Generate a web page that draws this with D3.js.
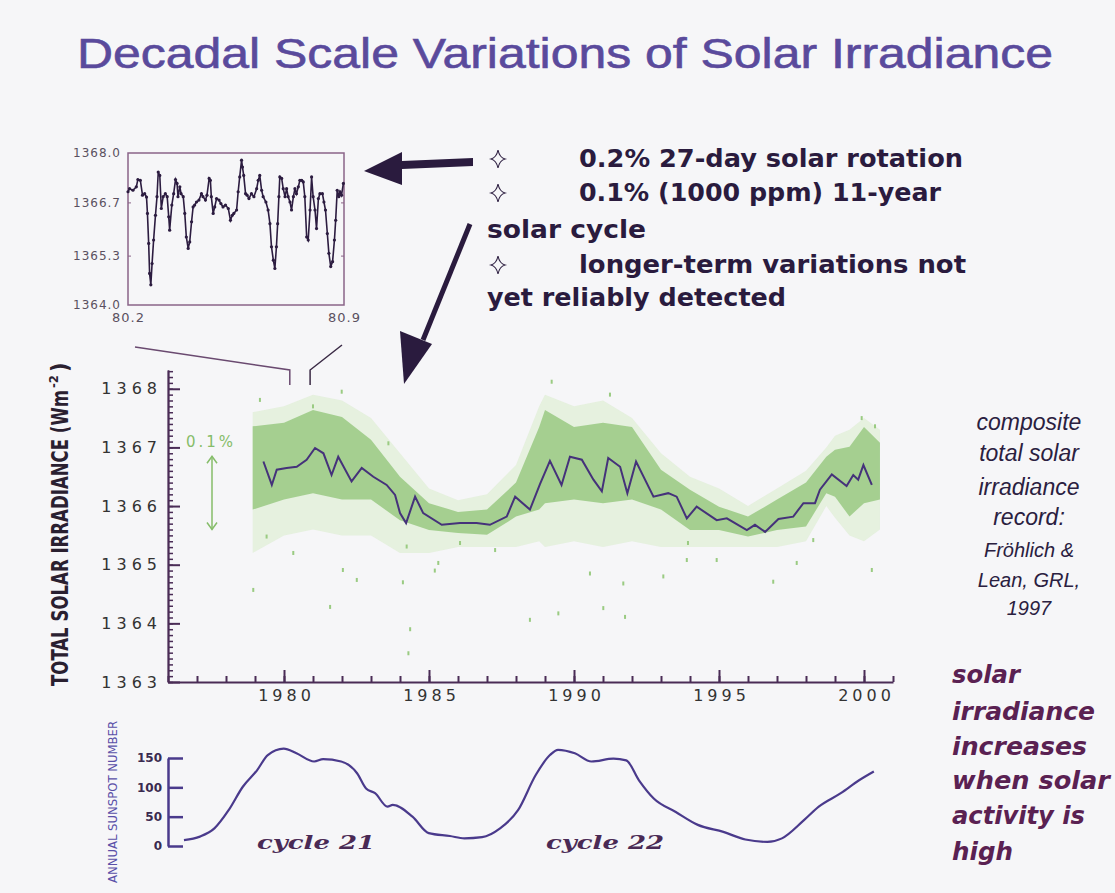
<!DOCTYPE html>
<html>
<head>
<meta charset="utf-8">
<script src="https://cdn.jsdelivr.net/npm/d3@7"></script>
<style>
  body { margin: 0; background: #f6f6f8; }
  svg { display: block; }
</style>
</head>
<body>
<div id="chart"></div>
<script>
// ---- data ----

// running mean of total solar irradiance [year, W/m2]
const meanYears = [1979.29, 1979.58, 1979.75, 1980.09, 1980.44, 1980.78, 1981.07, 1981.36, 1981.64, 1981.87,
    1982.33, 1982.68, 1983.08, 1983.54, 1983.83, 1984.0, 1984.21, 1984.52, 1984.80, 1985.44,
    1986.07, 1986.64, 1987.10, 1987.68, 1987.97, 1988.48, 1988.83, 1989.17, 1989.57, 1989.86,
    1990.27, 1990.67, 1990.96, 1991.18, 1991.59, 1991.84, 1992.14, 1992.74, 1993.25, 1993.54,
    1993.89, 1994.23, 1994.92, 1995.27, 1995.96, 1996.24, 1996.59, 1997.05, 1997.56, 1997.91,
    1998.31, 1998.48, 1998.89, 1999.40, 1999.63, 1999.80, 1999.98, 2000.27];
const meanValues = [1366.76, 1366.36, 1366.62, 1366.65, 1366.67, 1366.79, 1366.99, 1366.90, 1366.53, 1366.84,
    1366.42, 1366.65, 1366.50, 1366.36, 1366.19, 1365.88, 1365.71, 1366.16, 1365.88, 1365.68,
    1365.71, 1365.71, 1365.68, 1365.82, 1366.16, 1365.94, 1366.38, 1366.77, 1366.36, 1366.84,
    1366.79, 1366.45, 1366.25, 1366.82, 1366.67, 1366.22, 1366.76, 1366.16, 1366.22, 1366.16,
    1365.79, 1365.99, 1365.76, 1365.79, 1365.59, 1365.68, 1365.56, 1365.78, 1365.82, 1366.05,
    1366.05, 1366.28, 1366.54, 1366.34, 1366.53, 1366.45, 1366.70, 1366.36];

// envelope of the daily values (dense part and sparse halo)
const bandYears = [1978.92, 1980, 1981, 1982, 1983, 1984, 1985, 1986, 1987, 1988, 1988.8, 1989, 1990,
    1991, 1992, 1993, 1994, 1995, 1996, 1997, 1998, 1998.7, 1999, 1999.5, 2000, 2000.55];
const bandHigh = [1367.36, 1367.42, 1367.64, 1367.52, 1367.13, 1366.50, 1366.05, 1365.90, 1365.94, 1366.40, 1367.35, 1367.64, 1367.35,
    1367.42, 1367.35, 1366.62, 1366.28, 1365.99, 1365.82, 1366.11, 1366.40, 1366.84, 1366.96, 1367.01, 1367.35, 1367.08];
const bandLow = [1365.94, 1366.11, 1366.22, 1366.11, 1366.11, 1365.76, 1365.59, 1365.54, 1365.51, 1365.82, 1365.94, 1366.05, 1366.11,
    1366.05, 1366.11, 1365.94, 1365.59, 1365.59, 1365.48, 1365.59, 1365.65, 1366.22, 1366.16, 1365.82, 1366.05, 1366.11];
const haloHigh = [1367.6, 1367.7, 1367.9, 1367.8, 1367.5, 1366.9, 1366.3, 1366.1, 1366.2, 1366.7, 1367.7, 1367.9, 1367.7,
    1367.8, 1367.5, 1366.9, 1366.5, 1366.3, 1366.0, 1366.3, 1366.6, 1367.0, 1367.2, 1367.3, 1367.5, 1367.3];
const haloLow = [1365.2, 1365.5, 1365.6, 1365.5, 1365.5, 1365.2, 1365.2, 1365.3, 1365.3, 1365.3, 1365.4, 1365.3, 1365.4,
    1365.3, 1365.4, 1365.3, 1365.3, 1365.3, 1365.3, 1365.3, 1365.4, 1366.0, 1365.8, 1365.5, 1365.4, 1365.6];

// isolated daily values far from the band
const dotYears = [1978.94, 1979.40, 1980.32, 1981.59, 1982.03, 1982.51, 1984.23, 1984.29, 1985.32, 1986.07, 1987.28, 1988.48,
    1979.17, 1981.99, 1981.00, 1983.60, 1989.23, 1991.24, 1990.55, 1989.46, 1991.01, 1991.76, 1991.70, 1993.08,
    1993.89, 1994.92, 1996.87, 1997.68, 1998.25, 2000.27, 1999.92, 2000.38, 1993.93, 1984.10, 1984.35, 1985.20];
const dotValues = [1364.57, 1365.48, 1365.20, 1364.28, 1364.91, 1364.74, 1365.31, 1363.49, 1365.03, 1365.37, 1365.25, 1364.06,
    1367.81, 1367.95, 1367.70, 1367.07, 1368.12, 1367.90, 1364.85, 1364.17, 1364.26, 1364.11, 1364.68, 1364.80,
    1365.08, 1365.08, 1364.71, 1365.03, 1365.42, 1364.91, 1367.50, 1367.36, 1365.37, 1364.70, 1363.90, 1364.90];

// inset: daily values, 1980.2 - 1980.9
const insetT = [80.200, 80.205, 80.216, 80.227, 80.232, 80.240, 80.247, 80.254, 80.260, 80.263, 80.267, 80.270, 80.274, 80.278,
    80.283, 80.289, 80.294, 80.298, 80.303, 80.308, 80.314, 80.321, 80.327, 80.332, 80.335, 80.342, 80.348, 80.354,
    80.359, 80.362, 80.368, 80.372, 80.379, 80.384, 80.389, 80.395, 80.400, 80.406, 80.411, 80.416, 80.422, 80.430,
    80.438, 80.443, 80.451, 80.456, 80.463, 80.467, 80.470, 80.476, 80.481, 80.487, 80.495, 80.501, 80.508, 80.516,
    80.525, 80.532, 80.538, 80.543, 80.552, 80.557, 80.562, 80.568, 80.571, 80.575, 80.581, 80.586, 80.592, 80.600,
    80.608, 80.617, 80.622, 80.627, 80.633, 80.638, 80.647, 80.654, 80.660, 80.665, 80.671, 80.676, 80.681, 80.685,
    80.689, 80.692, 80.698, 80.703, 80.709, 80.714, 80.719, 80.725, 80.730, 80.736, 80.741, 80.746, 80.752, 80.757,
    80.763, 80.768, 80.773, 80.779, 80.784, 80.790, 80.795, 80.800, 80.806, 80.811, 80.817, 80.822, 80.830, 80.835,
    80.840, 80.846, 80.851, 80.857, 80.863, 80.869, 80.873, 80.878, 80.883, 80.887, 80.892, 80.898];
const insetV = [1366.98, 1367.06, 1367.02, 1367.11, 1367.30, 1367.28, 1366.89, 1366.93, 1366.84, 1366.41, 1365.62, 1364.83, 1364.53, 1365.09,
    1365.71, 1366.36, 1366.85, 1367.50, 1367.41, 1366.54, 1366.85, 1366.93, 1366.85, 1366.32, 1365.97, 1366.63, 1366.93, 1367.30,
    1367.20, 1366.85, 1367.11, 1366.93, 1366.85, 1366.41, 1365.79, 1365.49, 1365.66, 1366.19, 1366.58, 1366.63, 1366.71, 1366.76,
    1366.93, 1366.85, 1366.76, 1366.89, 1367.33, 1367.28, 1366.85, 1366.41, 1366.58, 1366.80, 1366.76, 1366.67, 1366.58, 1366.63,
    1366.54, 1366.23, 1366.36, 1366.41, 1366.50, 1366.98, 1367.37, 1367.81, 1367.63, 1367.41, 1366.93, 1366.89, 1366.80, 1366.93,
    1366.85, 1367.06, 1367.28, 1367.41, 1367.02, 1366.85, 1366.71, 1366.50, 1366.14, 1365.53, 1365.18, 1364.96, 1365.53, 1366.14,
    1366.85, 1367.37, 1367.33, 1367.06, 1366.85, 1367.06, 1366.85, 1366.71, 1366.50, 1366.85, 1367.06, 1366.93, 1367.11, 1367.28,
    1367.28, 1367.24, 1366.85, 1365.79, 1365.71, 1366.50, 1367.37, 1366.85, 1366.50, 1366.01, 1366.80, 1366.93, 1366.93, 1366.71,
    1366.50, 1365.88, 1365.36, 1365.01, 1365.14, 1365.71, 1366.23, 1367.02, 1366.85, 1366.98, 1366.89, 1367.20];

// smoothed sunspot number
const sunYears = [1976.55, 1977.10, 1977.60, 1978.09, 1978.58, 1979.07, 1979.44, 1979.99, 1980.43, 1981.04, 1981.35, 1981.97,
    1982.52, 1982.83, 1983.14, 1983.57, 1983.75, 1984.43, 1984.99, 1985.72, 1986.22, 1986.83, 1987.45, 1988.07,
    1988.68, 1989.17, 1989.45, 1990.03, 1990.60, 1991.36, 1991.80, 1992.24, 1992.75, 1993.51, 1994.27, 1995.15,
    1995.91, 1996.67, 1997.17, 1997.93, 1998.44, 1999.20, 1999.83, 2000.34];
const sunValues = [10, 16, 30, 61, 101, 129, 155, 166, 158, 144, 148, 144,
    124, 98, 90, 67, 70, 50, 22, 17, 13, 15, 30, 61,
    121, 155, 164, 158, 144, 149, 146, 112, 81, 58, 36, 24,
    11, 7, 13, 44, 67, 90, 112, 127];

const yTicks = [1363, 1364, 1365, 1366, 1367, 1368];
const xTicks = [1980, 1985, 1990, 1995, 2000];
const insetYTicks = [1364.0, 1365.3, 1366.7, 1368.0];
const insetXTicks = [80.2, 80.9];
const sunTicks = [0, 50, 100, 150];

const bullets = [
    { star: true, text: '0.2% 27-day solar rotation', len: 384 },
    { star: true, text: '0.1% (1000 ppm) 11-year', len: 362 },
    { star: false, text: 'solar cycle', len: 159 },
    { star: true, text: 'longer-term variations not', len: 387 },
    { star: false, text: 'yet reliably detected', len: 299 }
];
const noteLines = ['composite', 'total solar', 'irradiance', 'record:', 'Fröhlich &', 'Lean, GRL,', '1997'];
const sideLines = ['solar', 'irradiance', 'increases', 'when solar', 'activity is', 'high'];

// ---- drawing ----
const width = 1115, height = 893;
const axisColor = '#4a2c56';
const lineColor = '#45327a';

const svg = d3.select('#chart')
    .append('svg')
    .attr('width', width)
    .attr('height', height)
    .style('background', '#f6f6f8');

// title
svg.append('text')
    .attr('x', 565)
    .attr('y', 68)
    .attr('text-anchor', 'middle')
    .attr('textLength', 976)
    .attr('lengthAdjust', 'spacingAndGlyphs')
    .style('font-family', 'Liberation Sans, Arial')
    .style('font-size', '42px')
    .style('fill', '#5a4a9c')
    .style('stroke', '#5a4a9c')
    .style('stroke-width', 0.6)
    .text('Decadal Scale Variations of Solar Irradiance');

// main scales
const x = d3.scaleLinear().domain([1976, 2001]).range([168, 893]);
const y = d3.scaleLinear().domain([1363, 1368.32]).range([682, 370]);

// halo + dense band of daily values
const halo = d3.area()
    .x((d, i) => x(bandYears[i]))
    .y0((d, i) => y(haloLow[i]))
    .y1((d, i) => y(haloHigh[i]));
const band = d3.area()
    .x((d, i) => x(bandYears[i]))
    .y0((d, i) => y(bandLow[i]))
    .y1((d, i) => y(bandHigh[i]));

svg.append('path')
    .datum(bandYears)
    .attr('d', halo)
    .style('fill', '#d6ebc6')
    .style('opacity', 0.5);

svg.append('path')
    .datum(bandYears)
    .attr('d', band)
    .style('fill', '#99c983')
    .style('opacity', 0.85);

svg.selectAll('.dot')
    .data(dotYears)
    .enter().append('rect')
    .attr('class', 'dot')
    .attr('x', d => x(d) - 1)
    .attr('y', (d, i) => y(dotValues[i]) - 2)
    .attr('width', 2)
    .attr('height', 4)
    .style('fill', '#9acb82');

// running mean
const meanLine = d3.line()
    .x((d, i) => x(meanYears[i]))
    .y((d, i) => y(meanValues[i]));

svg.append('path')
    .datum(meanYears)
    .attr('d', meanLine)
    .style('fill', 'none')
    .style('stroke', lineColor)
    .style('stroke-width', 2);

// y axis: minor + major ticks inside, labels outside
const yMinor = d3.range(13630, 13684, 1).map(v => v / 10);
svg.append('g')
    .attr('transform', 'translate(168,0)')
    .call(d3.axisRight(y).tickValues(yMinor).tickSize(5).tickSizeOuter(0).tickFormat(''))
    .call(g => g.selectAll('line,path').style('stroke', axisColor).style('stroke-width', 1.5));
svg.append('g')
    .attr('transform', 'translate(168,0)')
    .call(d3.axisRight(y).tickValues(yTicks).tickSize(12).tickSizeOuter(0).tickFormat(''))
    .call(g => g.selectAll('line,path').style('stroke', axisColor).style('stroke-width', 2));
svg.append('g')
    .attr('transform', 'translate(168,0)')
    .call(d3.axisLeft(y).tickValues(yTicks).tickSize(0).tickPadding(6).tickFormat(d3.format('d')))
    .call(g => g.select('.domain').remove())
    .call(g => g.selectAll('text')
        .style('font-family', 'DejaVu Sans')
        .style('font-size', '16px')
        .style('letter-spacing', '5px')
        .style('fill', '#333'));

// x axis
const xMinor = d3.range(1976, 2002);
svg.append('g')
    .attr('transform', 'translate(0,682)')
    .call(d3.axisTop(x).tickValues(xMinor).tickSize(6).tickSizeOuter(0).tickFormat(''))
    .call(g => g.selectAll('line,path').style('stroke', axisColor).style('stroke-width', 2));
svg.append('g')
    .attr('transform', 'translate(0,682)')
    .call(d3.axisTop(x).tickValues(xTicks).tickSize(12).tickSizeOuter(0).tickFormat(''))
    .call(g => g.select('.domain').remove())
    .call(g => g.selectAll('line').style('stroke', axisColor).style('stroke-width', 2));
svg.append('g')
    .attr('transform', 'translate(0,682)')
    .call(d3.axisBottom(x).tickValues(xTicks).tickSize(0).tickPadding(8).tickFormat(d3.format('d')))
    .call(g => g.select('.domain').remove())
    .call(g => g.selectAll('text')
        .attr('dx', '2px')
        .style('font-family', 'DejaVu Sans')
        .style('font-size', '16px')
        .style('letter-spacing', '4px')
        .style('fill', '#333'));

// y axis title
const yTitle = svg.append('g').attr('transform', 'translate(68,686) rotate(-90)');
yTitle.append('text')
    .attr('textLength', 296)
    .attr('lengthAdjust', 'spacingAndGlyphs')
    .style('font-family', 'DejaVu Sans Condensed, DejaVu Sans')
    .style('font-weight', 'bold')
    .style('font-size', '23px')
    .style('fill', '#2a2030')
    .text('TOTAL SOLAR IRRADIANCE (Wm');
yTitle.append('text')
    .attr('x', 298)
    .attr('y', -10)
    .style('font-family', 'DejaVu Sans Condensed, DejaVu Sans')
    .style('font-weight', 'bold')
    .style('font-size', '13px')
    .style('fill', '#2a2030')
    .text('-2');
yTitle.append('text')
    .attr('x', 314)
    .style('font-family', 'DejaVu Sans Condensed, DejaVu Sans')
    .style('font-weight', 'bold')
    .style('font-size', '23px')
    .style('fill', '#2a2030')
    .text(')');

// 0.1% marker
const green = '#86bd6a';
svg.append('text')
    .attr('x', 186)
    .attr('y', 447)
    .style('font-family', 'DejaVu Sans')
    .style('font-size', '15px')
    .style('letter-spacing', '3px')
    .style('fill', green)
    .text('0.1%');
const ax = 212, ay0 = y(1366.85), ay1 = y(1365.6);
svg.append('line')
    .attr('x1', ax).attr('x2', ax).attr('y1', ay0).attr('y2', ay1)
    .style('stroke', green).style('stroke-width', 1.5);
svg.append('path')
    .attr('d', `M${ax - 5},${ay0 + 7}L${ax},${ay0}L${ax + 5},${ay0 + 7}M${ax - 5},${ay1 - 7}L${ax},${ay1}L${ax + 5},${ay1 - 7}`)
    .style('fill', 'none').style('stroke', green).style('stroke-width', 1.5);

// ---- inset ----
const xi = d3.scaleLinear().domain([80.2, 80.9]).range([128, 344]);
const yi = d3.scaleLinear().domain([1364, 1368]).range([305, 153]);

svg.append('rect')
    .attr('x', 128).attr('y', 153).attr('width', 216).attr('height', 152)
    .style('fill', 'none').style('stroke', '#8a6488').style('stroke-width', 1.5);

svg.append('g')
    .attr('transform', 'translate(128,0)')
    .call(d3.axisLeft(yi).tickValues(insetYTicks).tickSize(0).tickPadding(7).tickFormat(d3.format('.1f')))
    .call(g => g.select('.domain').remove())
    .call(g => g.selectAll('text')
        .style('font-family', 'DejaVu Sans')
        .style('font-size', '12px')
        .style('letter-spacing', '1px')
        .style('fill', '#5a5060'));
svg.append('g')
    .attr('transform', 'translate(128,0)')
    .call(d3.axisRight(yi).tickValues([1365.3, 1366.7]).tickSize(3).tickSizeOuter(0).tickFormat(''))
    .call(g => g.select('.domain').remove())
    .call(g => g.selectAll('line').style('stroke', '#8a6488'));
svg.append('g')
    .attr('transform', 'translate(344,0)')
    .call(d3.axisLeft(yi).tickValues([1365.3, 1366.7]).tickSize(3).tickSizeOuter(0).tickFormat(''))
    .call(g => g.select('.domain').remove())
    .call(g => g.selectAll('line').style('stroke', '#8a6488'));
svg.append('g')
    .attr('transform', 'translate(0,305)')
    .call(d3.axisBottom(xi).tickValues(insetXTicks).tickSize(0).tickPadding(8).tickFormat(d3.format('.1f')))
    .call(g => g.select('.domain').remove())
    .call(g => g.selectAll('text')
        .style('font-family', 'DejaVu Sans')
        .style('font-size', '13px')
        .style('letter-spacing', '1px')
        .style('fill', '#5a5060'));

const insetLine = d3.line()
    .x((d, i) => xi(insetT[i]))
    .y((d, i) => yi(insetV[i]));
svg.append('path')
    .datum(insetT)
    .attr('d', insetLine)
    .style('fill', 'none')
    .style('stroke', '#2c1c40')
    .style('stroke-width', 1.6);
svg.selectAll('.idot')
    .data(insetT)
    .enter().append('circle')
    .attr('class', 'idot')
    .attr('cx', d => xi(d))
    .attr('cy', (d, i) => yi(insetV[i]))
    .attr('r', 1.6)
    .style('fill', '#2c1c40');

// connectors from inset to its span on the main axis
const xa = x(1980.2), xb = x(1980.9);
svg.append('path')
    .attr('d', `M135,347L${xa},370L${xa},385`)
    .style('fill', 'none').style('stroke', '#6a4a70').style('stroke-width', 1.5);
svg.append('path')
    .attr('d', `M342,345L${xb},370L${xb},385`)
    .style('fill', 'none').style('stroke', '#3a2a45').style('stroke-width', 1.5);

// ---- bullet text ----
const ink = '#2a1b3e';
const lineYs = [167, 201, 238, 273, 306];
bullets.forEach((b, i) => {
    if (b.star) {
        svg.append('path')
            .attr('transform', `translate(498,${lineYs[i] - 8})`)
            .attr('d', 'M0,-9Q1.5,-1.5 7,0Q1.5,1.5 0,9Q-1.5,1.5 -7,0Q-1.5,-1.5 0,-9Z')
            .style('fill', 'none').style('stroke', ink).style('stroke-width', 1.1);
    }
    svg.append('text')
        .attr('x', b.star ? 579 : 487)
        .attr('y', lineYs[i])
        .attr('textLength', b.len)
        .attr('lengthAdjust', 'spacingAndGlyphs')
        .style('font-family', 'DejaVu Sans')
        .style('font-weight', 'bold')
        .style('font-size', '24px')
        .style('fill', ink)
        .text(b.text);
});

// arrow to inset
svg.append('path')
    .attr('d', 'M473,158L473,166L402,169L402,185L364,171L402,152L402,161Z')
    .style('fill', ink);
// arrow to main chart
svg.append('line')
    .attr('x1', 470).attr('y1', 224).attr('x2', 423).attr('y2', 340)
    .style('stroke', ink).style('stroke-width', 5);
svg.append('path')
    .attr('d', 'M404,384L400,331L432,344Z')
    .style('fill', ink);

// ---- right note ----
noteLines.forEach((t, i) => {
    svg.append('text')
        .attr('x', 1029)
        .attr('y', [430, 461, 495, 525, 557, 587, 615][i])
        .attr('text-anchor', 'middle')
        .style('font-family', 'Liberation Sans, Arial')
        .style('font-style', 'italic')
        .style('font-size', i < 4 ? '23px' : '20px')
        .style('fill', '#2a2040')
        .text(t);
});

// ---- sunspot panel ----
const ys = d3.scaleLinear().domain([0, 150]).range([846, 758]);
const sunColor = '#4a3a8c';

svg.append('g')
    .attr('transform', 'translate(168,0)')
    .call(d3.axisRight(ys).tickValues(sunTicks).tickSize(15).tickSizeOuter(0).tickFormat(''))
    .call(g => g.selectAll('line,path').style('stroke', sunColor).style('stroke-width', 2.5));
svg.append('g')
    .attr('transform', 'translate(168,0)')
    .call(d3.axisLeft(ys).tickValues(sunTicks).tickSize(0).tickPadding(6))
    .call(g => g.select('.domain').remove())
    .call(g => g.selectAll('text')
        .style('font-family', 'DejaVu Sans')
        .style('font-weight', 'bold')
        .style('font-size', '12px')
        .style('fill', '#3a2a50'));

const sunLine = d3.line()
    .x((d, i) => x(sunYears[i]))
    .y((d, i) => ys(sunValues[i]))
    .curve(d3.curveMonotoneX);
svg.append('path')
    .datum(sunYears)
    .attr('d', sunLine)
    .style('fill', 'none')
    .style('stroke', sunColor)
    .style('stroke-width', 2.2);

svg.append('text')
    .attr('transform', 'translate(117,883) rotate(-90)')
    .attr('textLength', 162)
    .attr('lengthAdjust', 'spacingAndGlyphs')
    .style('font-family', 'DejaVu Sans Condensed, DejaVu Sans')
    .style('font-size', '13px')
    .style('fill', '#5a50a8')
    .text('ANNUAL SUNSPOT NUMBER');

[['cycle 21', 257], ['cycle 22', 546]].forEach(([t, cx]) => {
    svg.append('text')
        .attr('x', cx)
        .attr('y', 849)
        .attr('textLength', 118)
        .attr('lengthAdjust', 'spacingAndGlyphs')
        .style('font-family', 'DejaVu Serif')
        .style('font-weight', 'bold')
        .style('font-style', 'italic')
        .style('font-size', '18px')
        .style('fill', '#4a2a55')
        .text(t);
});

// side text
const sideLens = [68, 143, 135, 158, 133, 61];
sideLines.forEach((t, i) => {
    svg.append('text')
        .attr('x', 952)
        .attr('y', [683, 720, 755, 789, 824, 860][i])
        .attr('textLength', sideLens[i])
        .attr('lengthAdjust', 'spacingAndGlyphs')
        .style('font-family', 'DejaVu Sans')
        .style('font-weight', 'bold')
        .style('font-style', 'italic')
        .style('font-size', '24px')
        .style('fill', '#5a2152')
        .text(t);
});
</script>
</body>
</html>
